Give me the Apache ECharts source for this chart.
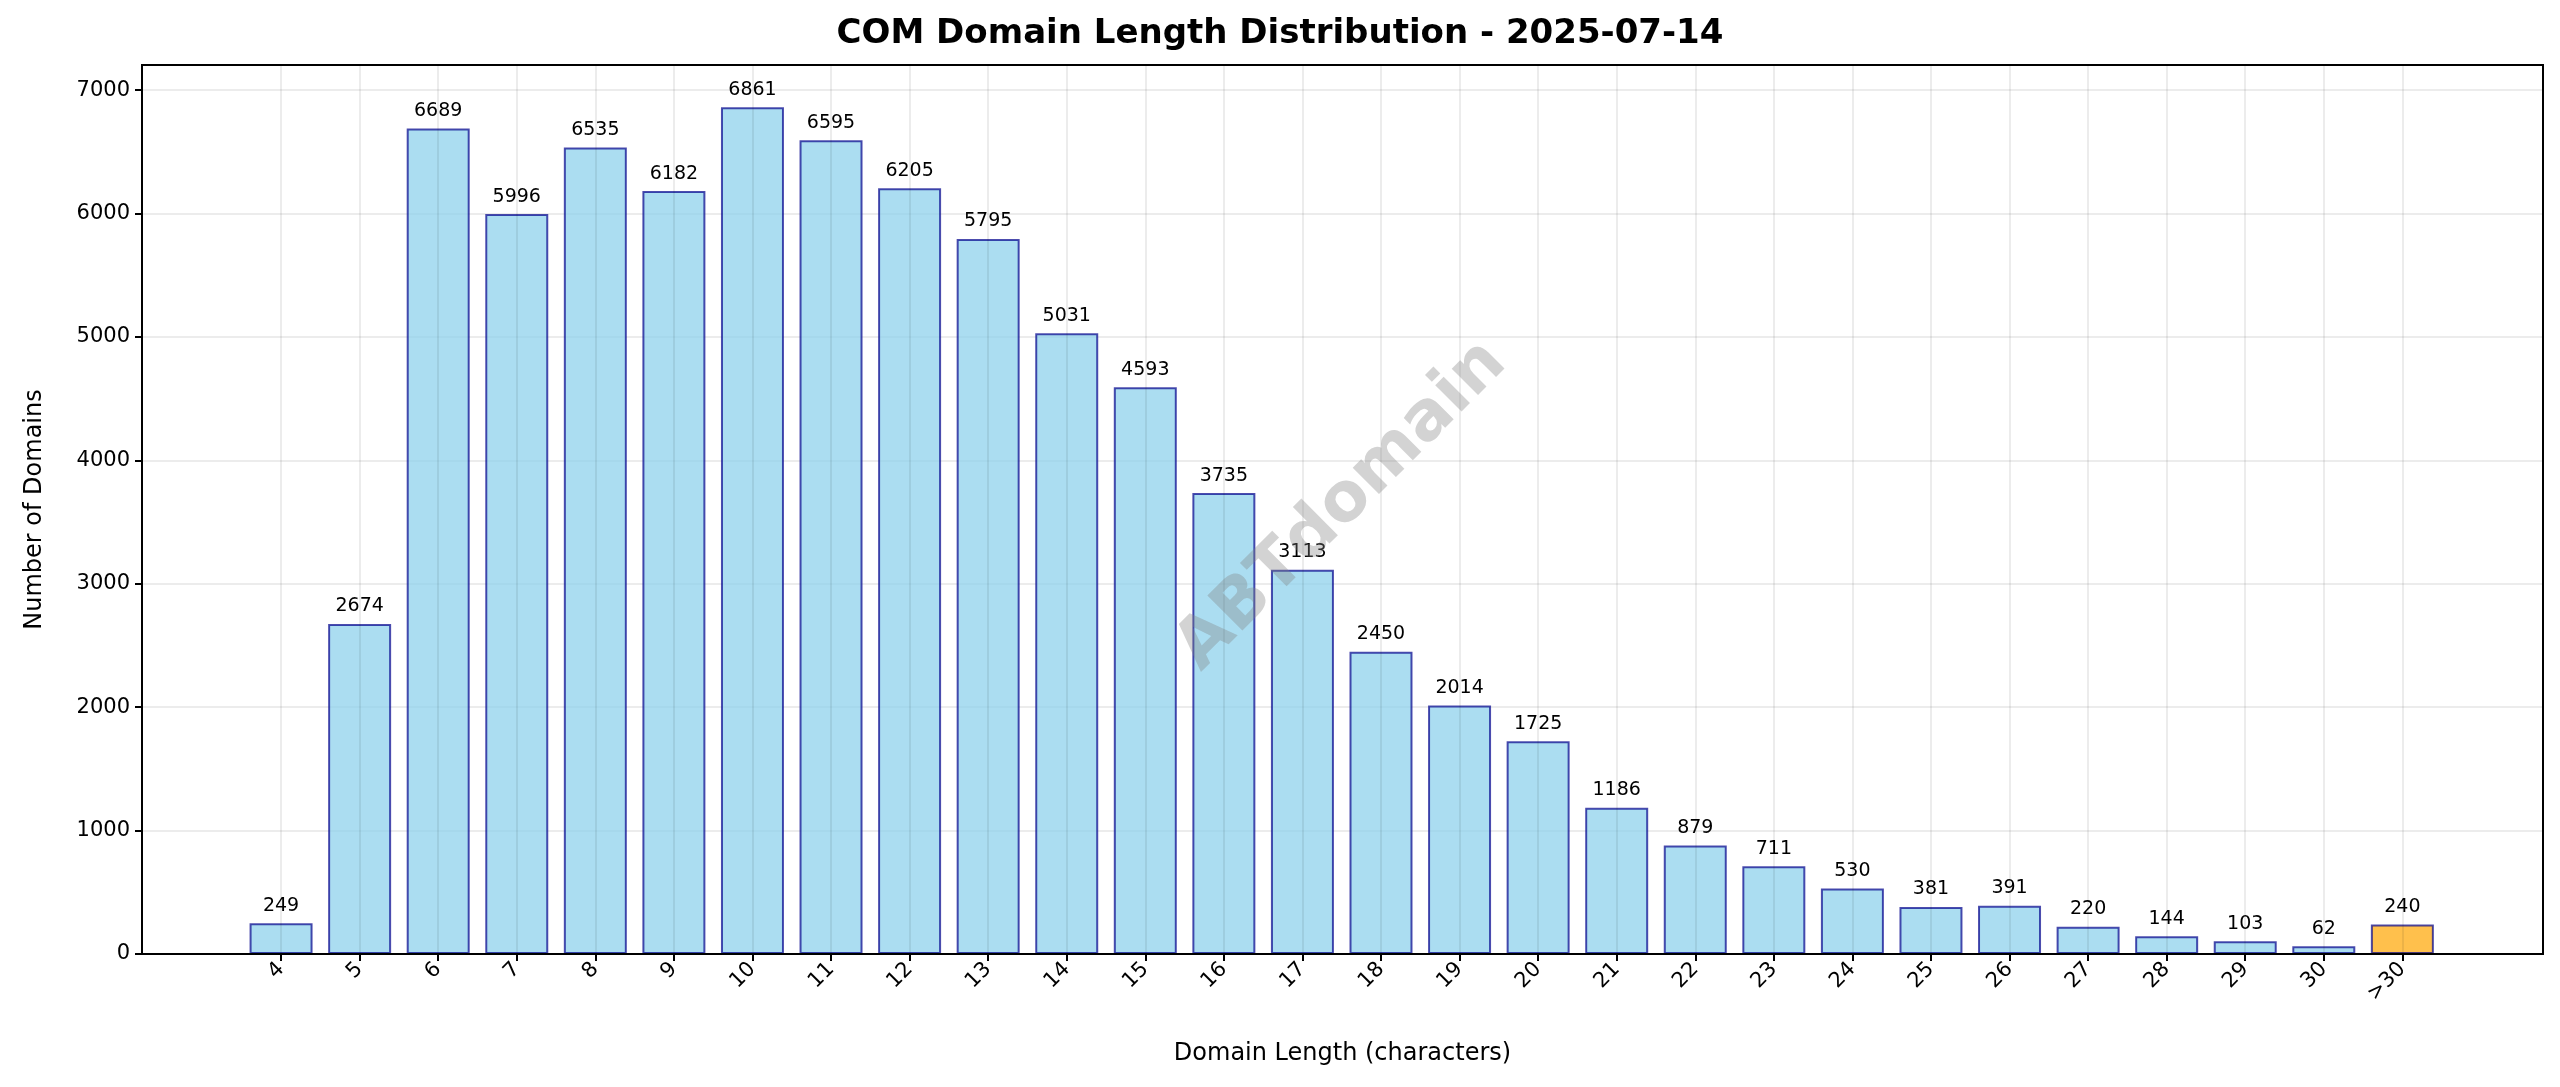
<!DOCTYPE html>
<html>
<head>
<meta charset="utf-8">
<script src="https://cdn.jsdelivr.net/npm/echarts@6/dist/echarts.min.js"></script>
<style>
    html, body { margin: 0; padding: 0; background: #fff; }
    #chart { width: 2560px; height: 1087px; }
</style>
</head>
<body>
<div id="chart"></div>
<script>
const categories = ['4', '5', '6', '7', '8', '9', '10', '11', '12', '13', '14', '15', '16', '17', '18', '19', '20', '21', '22', '23', '24', '25', '26', '27', '28', '29', '30', '>30']
const counts = [249, 2674, 6689, 5996, 6535, 6182, 6861, 6595, 6205, 5795, 5031, 4593, 3735, 3113, 2450, 2014, 1725, 1186, 879, 711, 530, 381, 391, 220, 144, 103, 62, 240]
const yTicks = [0, 1000, 2000, 3000, 4000, 5000, 6000, 7000]

const font = 'DejaVu Sans'
const idx = categories.map((c, i) => i)

const seriesData = counts.map((v, i) => {
    const item = { value: [i, v] }
    if (categories[i] === '>30') {
        item.itemStyle = { color: 'rgba(255,165,0,0.7)' }
    }
    return item
})

const option = {
    animation: false,
    title: {
        text: 'COM Domain Length Distribution - 2025-07-14',
        left: 'center',
        top: 12,
        textStyle: { fontFamily: font, fontSize: 34, fontWeight: 'bold', color: '#000' }
    },
    grid: { left: 142, right: 17, top: 65, bottom: 133 },
    xAxis: {
        type: 'value',
        min: -1.77,
        max: 28.79,
        name: 'Domain Length (characters)',
        nameLocation: 'middle',
        nameGap: 88,
        nameTextStyle: { fontFamily: font, fontSize: 24, color: '#000' },
        axisLine: { show: true, onZero: false, lineStyle: { color: '#000', width: 2 } },
        axisTick: { show: true, customValues: idx, length: 7, lineStyle: { color: '#000', width: 2 } },
        axisLabel: {
            customValues: idx,
            formatter: v => categories[Math.round(v)],
            rotate: 45,
            margin: 12,
            fontFamily: font,
            fontSize: 21,
            color: '#000'
        },
        splitLine: { show: false }
    },
    yAxis: {
        type: 'value',
        min: 0,
        max: 7204,
        interval: 1000,
        name: 'Number of Domains',
        nameLocation: 'middle',
        nameGap: 95,
        nameTextStyle: { fontFamily: font, fontSize: 24, color: '#000' },
        axisLine: { show: true, onZero: false, lineStyle: { color: '#000', width: 2 } },
        axisTick: { show: true, customValues: yTicks, length: 7, lineStyle: { color: '#000', width: 2 } },
        axisLabel: { customValues: yTicks, formatter: v => String(v), fontFamily: font, fontSize: 21, color: '#000', margin: 12 },
        splitLine: { show: true, lineStyle: { color: 'rgba(0,0,0,0.1)', width: 1.5 } }
    },
    graphic: [
        {
            type: 'rect',
            shape: { x: 142, y: 65, width: 2401, height: 889 },
            style: { fill: 'none', stroke: '#000', lineWidth: 2 },
            z: 10
        },
        {
            type: 'text',
            x: 1342,
            y: 506,
            rotation: Math.PI / 4,
            style: {
                text: 'ABTdomain',
                fontFamily: font,
                fontSize: 68,
                fontWeight: 'bold',
                fill: 'rgba(128,128,128,0.35)',
                align: 'center',
                verticalAlign: 'middle'
            },
            z: 20
        }
    ],
    series: [
        {
            type: 'bar',
            barWidth: 63,
            data: seriesData,
            itemStyle: {
                color: 'rgba(135,206,235,0.7)',
                borderColor: 'rgba(0,0,139,0.7)',
                borderWidth: 2
            },
            label: {
                show: true,
                position: 'top',
                distance: 8,
                formatter: p => p.value[1],
                fontFamily: font,
                fontSize: 19,
                color: '#000'
            },
            markLine: {
                silent: true,
                symbol: 'none',
                label: { show: false },
                lineStyle: { color: 'rgba(0,0,0,0.1)', width: 1.5, type: 'solid' },
                data: idx.map(i => ({ xAxis: i }))
            },
            z: 3
        }
    ]
}

const myChart = echarts.init(document.getElementById('chart'))
myChart.setOption(option)
</script>
</body>
</html>
